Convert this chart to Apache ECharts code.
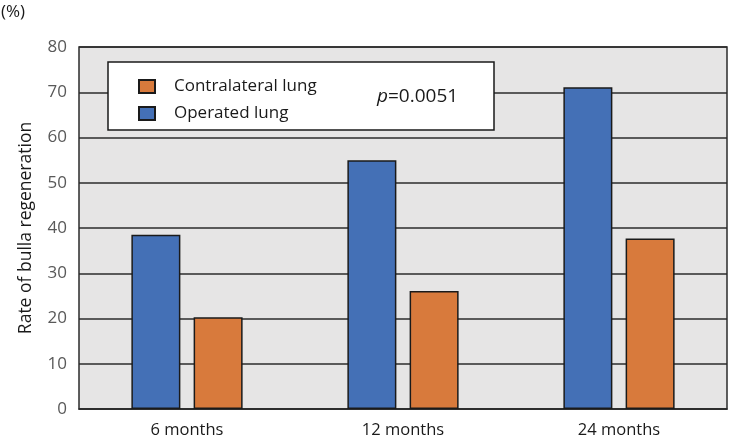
<!DOCTYPE html>
<html><head><meta charset="utf-8">
<script src="https://cdn.jsdelivr.net/npm/echarts@6/dist/echarts.min.js"></script>
<style>html,body{margin:0;padding:0;background:#fff}#c{width:731px;height:442px}</style>
</head><body><div id="c"></div>
<script>
const categories = ['6 months', '12 months', '24 months'];
const operated = [38.5, 55.0, 71.1];
const contralateral = [20.3, 26.1, 37.7];
const yTicks = { min: 0, max: 80, interval: 10 };
const yName = 'Rate of bulla regeneration';
const unitLabel = '(%)';
const pText = '=0.0051';

const chart = echarts.init(document.getElementById('c'));
const font = '"Open Sans", sans-serif';
chart.setOption({
  animation: false,
  backgroundColor: '#ffffff',
  grid: { left: 79, right: 4, top: 47, bottom: 33, show: true, backgroundColor: '#e6e5e5', borderColor: '#2b2b2b', borderWidth: 1.5 },
  xAxis: {
    type: 'category', data: categories,
    axisLine: { show: true, lineStyle: { color: '#2b2b2b', width: 1.5 } },
    axisTick: { show: false },
    axisLabel: { color: '#1a1a1a', fontFamily: font, fontSize: 16.5, margin: 13 }
  },
  yAxis: {
    type: 'value', min: yTicks.min, max: yTicks.max, interval: yTicks.interval,
    name: yName, nameLocation: 'middle', nameGap: 44, nameRotate: 90,
    nameTextStyle: { color: '#1a1a1a', fontFamily: font, fontSize: 17.5, padding: [0, 0, 0, 0] },
    axisLine: { show: false }, axisTick: { show: false },
    axisLabel: { color: '#595959', fontFamily: font, fontSize: 17, margin: 12 },
    splitLine: { lineStyle: { color: '#2b2b2b', width: 1.5 } }
  },
  legend: {
    orient: 'vertical', left: 133, top: 73, itemWidth: 16, itemHeight: 13, itemGap: 10,
    data: ['Contralateral lung', 'Operated lung'], icon: 'rect', z: 10,
    textStyle: { color: '#1a1a1a', fontFamily: font, fontSize: 17, padding: [0, 0, 0, 14] }
  },
  graphic: [
    { type: 'rect', z: 5, shape: { x: 108, y: 62, width: 386, height: 68 }, style: { fill: '#ffffff', stroke: '#1a1a1a', lineWidth: 1.5 } },
    { type: 'text', z: 11, left: 377, top: 87, style: { fontSize: 19, fontFamily: font, fill: '#1a1a1a', rich: { i: { fontStyle: 'italic', fontSize: 19, fontFamily: font, fill: '#1a1a1a' }, n: { fontSize: 19, fontFamily: font, fill: '#1a1a1a' } }, text: '{i|p}{n|' + pText + '}' } },
    { type: 'text', z: 11, left: 1, top: 4, style: { text: unitLabel, fontSize: 17, fontFamily: font, fill: '#1a1a1a' } }
  ],
  series: [
    { name: 'Operated lung', type: 'bar', data: operated, barWidth: 49, barGap: '27%',
      itemStyle: { color: '#4470b6', borderColor: '#1a1a1a', borderWidth: 1.5 } },
    { name: 'Contralateral lung', type: 'bar', data: contralateral, barWidth: 49,
      itemStyle: { color: '#d87a3c', borderColor: '#1a1a1a', borderWidth: 1.5 } }
  ]
});
</script></body></html>
